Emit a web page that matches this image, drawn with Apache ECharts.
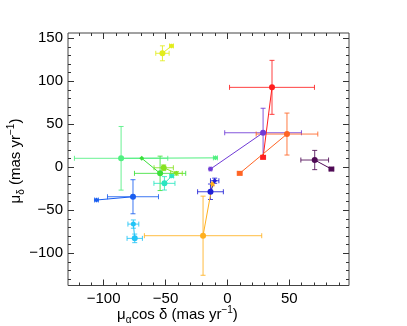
<!DOCTYPE html>
<html>
<head>
<meta charset="utf-8">
<script src="https://cdn.jsdelivr.net/npm/echarts@6/dist/echarts.min.js"></script>
<style>
html,body{margin:0;padding:0;background:#fff;}
#chart{width:407px;height:326px;}
</style>
</head>
<body>
<div id="chart"></div>
<script>
// proper motions (mas/yr): A = point with big error bars, B = the point it is joined to
const names = ['yellow','red','violet','orangered','plum','lightgreen','green','lime','teal','blue','cyan','orange','navy'];
const xA = [-52.5, 36.0, 28.8, 48.1, 70.5, -85.9, -54.4, -51.5, -50.9, -76.3, -74.9, -19.7, -13.7];
const yA = [132.6, 93.0, 40.2, 38.7, 8.5, 10.5, -7.0, -0.5, -18.6, -34.2, -82.6, -79.5, -28.4];
const xErrA = [5.4, 34.3, 31.0, 24.9, 11.2, 37.7, 20.7, 7.8, 8.5, 20.6, 6.2, 47.4, 10.4];
const yErrA = [8.7, 31.4, 28.5, 24.4, 11.2, 37.0, 20.0, 3.3, 7.8, 19.8, 5.0, 46.0, 9.0];
const xB = [-45.2, 28.8, -13.7, 9.9, 84.0, -9.7, -69.2, -41.2, -45.0, -105.8, -76.0, -12.1, -10.3];
const yB = [141.2, 11.6, -2.0, -7.0, -2.0, 11.0, 10.5, -7.0, -10.1, -38.0, -66.0, -19.4, -15.6];
const xErrB = [1.5, 2.0, 1.0, 2.0, 2.0, 1.6, 0, 4.7, 1.5, 1.5, 4.4, 1.0, 3.4];
const yErrB = [1.5, 1.5, 1.0, 1.5, 1.0, 1.0, 0, 2.0, 1.5, 1.0, 4.8, 2.0, 3.0];

const xMajor = [-100, -50, 0, 50];
const xMinor = [-120, -110, -90, -80, -70, -60, -40, -30, -20, -10, 10, 20, 30, 40, 60, 70, 80, 90];
const yMajor = [-100, -50, 0, 50, 100, 150];
const yMinor = [-130, -120, -110, -90, -80, -70, -60, -40, -30, -20, -10, 10, 20, 30, 40, 60, 70, 80, 90, 110, 120, 130, 140];

const colors = ['#e2ec1c', '#ff1e1e', '#6f3ad6', '#ff6424', '#4f0a55', '#50f080', '#3ce03a', '#86e21e', '#2ae6c0', '#1a5ef0', '#22c4f6', '#ffb020', '#1e1ed6'];
const bSymbols = ['diamond', 'rect', 'diamond', 'rect', 'rect', 'diamond', 'diamond', 'diamond', 'diamond', 'diamond', 'circle', 'diamond', 'diamond'];

const font = 'Liberation Sans, Arial, sans-serif';
const minus = v => String(v).replace('-', '\u2212');

function xAx(pos, ticks, len, labels) {
  return {
    type: 'value', min: -128.8, max: 98.2, position: pos,
    axisLine: { show: false, onZero: false }, splitLine: { show: false },
    axisTick: { show: true, inside: true, length: len, customValues: ticks, lineStyle: { color: '#333' } },
    axisLabel: labels ? { customValues: ticks, formatter: minus, fontSize: 15, color: '#000', fontFamily: font, margin: 6 } : { show: false }
  };
}
function yAx(pos, ticks, len, labels) {
  return {
    type: 'value', min: -137.4, max: 156.2, position: pos,
    axisLine: { show: false, onZero: false }, splitLine: { show: false },
    axisTick: { show: true, inside: true, length: len, customValues: ticks, lineStyle: { color: '#333' } },
    axisLabel: labels ? { customValues: ticks, formatter: minus, fontSize: 15, color: '#000', fontFamily: font, margin: 5 } : { show: false }
  };
}

const errData = [];
for (let i = 0; i < names.length; i++) {
  errData.push([xA[i], yA[i], xErrA[i], yErrA[i], i]);
  if (xErrB[i] > 0 || yErrB[i] > 0) errData.push([xB[i], yB[i], xErrB[i], yErrB[i], i]);
}

const series = [{
  type: 'custom',
  xAxisIndex: 0, yAxisIndex: 0,
  data: errData,
  z: 1,
  renderItem: function (params, api) {
    const x = api.value(0), y = api.value(1), ex = api.value(2), ey = api.value(3);
    const c = colors[api.value(4)];
    const l = api.coord([x - ex, y]), r = api.coord([x + ex, y]);
    const t = api.coord([x, y + ey]), b = api.coord([x, y - ey]);
    const cap = 2.5;
    const st = { stroke: c, lineWidth: 1, opacity: 0.85 };
    const ln = (x1, y1, x2, y2) => ({ type: 'line', shape: { x1, y1, x2, y2 }, style: st });
    return {
      type: 'group',
      children: [
        ln(l[0], l[1], r[0], r[1]),
        ln(l[0], l[1] - cap, l[0], l[1] + cap),
        ln(r[0], r[1] - cap, r[0], r[1] + cap),
        ln(t[0], t[1], b[0], b[1]),
        ln(t[0] - cap, t[1], t[0] + cap, t[1]),
        ln(b[0] - cap, b[1], b[0] + cap, b[1])
      ]
    };
  }
}];

names.forEach((n, i) => {
  series.push({
    name: n,
    type: 'line',
    xAxisIndex: 0, yAxisIndex: 0,
    z: 2,
    color: colors[i],
    lineStyle: { width: 1, color: colors[i] },
    itemStyle: { color: colors[i] },
    data: [
      { value: [xA[i], yA[i]], symbol: 'circle', symbolSize: 6 },
      { value: [xB[i], yB[i]], symbol: bSymbols[i], symbolSize: bSymbols[i] === 'rect' ? 5 : 5 }
    ]
  });
});

const chart = echarts.init(document.getElementById('chart'));
chart.setOption({
  animation: false,
  backgroundColor: '#fff',
  grid: { left: 68, top: 33, width: 281, height: 252.5, show: true, borderColor: '#444', borderWidth: 1, backgroundColor: 'transparent' },
  xAxis: [xAx('bottom', xMajor, 6, true), xAx('bottom', xMinor, 3, false), xAx('top', xMajor, 6, false), xAx('top', xMinor, 3, false)],
  yAxis: [yAx('left', yMajor, 6, true), yAx('left', yMinor, 3, false), yAx('right', yMajor, 6, false), yAx('right', yMinor, 3, false)],
  series: series,
  graphic: [
    {
      type: 'text', left: 117, top: 305,
      style: {
        text: '{a|\u03bc}{s|\u03b1}{a|cos \u03b4 (mas yr}{p|\u22121}{a|)}',
        rich: {
          a: { fontSize: 15, fontFamily: font, fill: '#000', lineHeight: 20 },
          s: { fontSize: 10, fontFamily: font, fill: '#000', verticalAlign: 'bottom', lineHeight: 20 },
          p: { fontSize: 10, fontFamily: font, fill: '#000', verticalAlign: 'top', lineHeight: 20 }
        }
      }
    },
    {
      type: 'text', x: 16, y: 161, rotation: Math.PI / 2,
      style: {
        text: '{a|\u03bc}{s|\u03b4}{a| (mas yr}{p|\u22121}{a|)}',
        align: 'center', verticalAlign: 'middle',
        rich: {
          a: { fontSize: 15, fontFamily: font, fill: '#000', lineHeight: 20 },
          s: { fontSize: 10, fontFamily: font, fill: '#000', verticalAlign: 'bottom', lineHeight: 20 },
          p: { fontSize: 10, fontFamily: font, fill: '#000', verticalAlign: 'top', lineHeight: 20 }
        }
      }
    }
  ]
});
</script>
</body>
</html>
